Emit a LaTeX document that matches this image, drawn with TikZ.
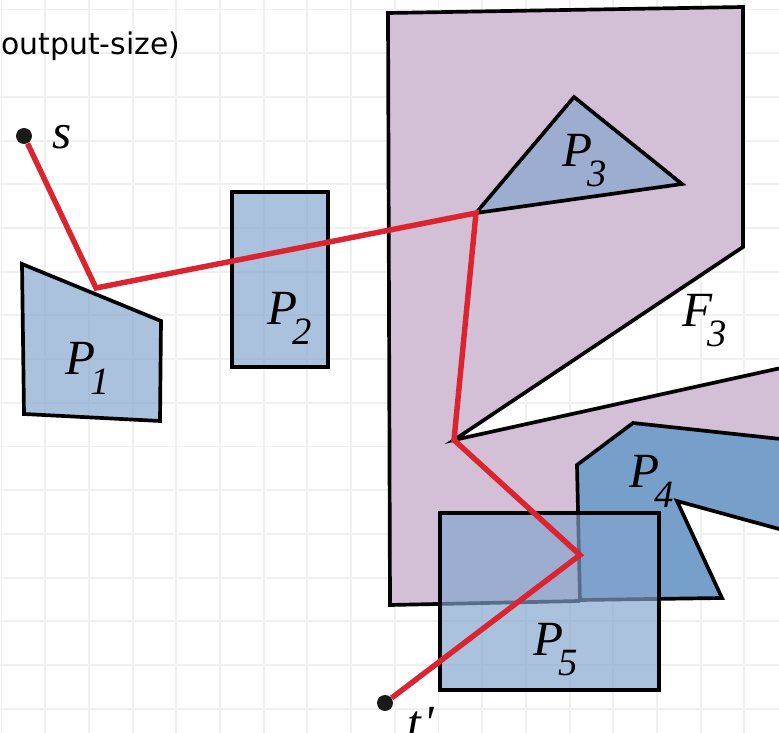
\documentclass[tikz,border=0pt]{standalone}
\usepackage{fontspec}
\setmainfont{Liberation Serif}
\newfontfamily\capsans{DejaVu Sans}
\usepackage{tikz}

\definecolor{gridgray}{RGB}{240,240,240}
\definecolor{obsblue}{RGB}{130,164,206}
\definecolor{deepblue}{RGB}{118,159,202}
\definecolor{facepink}{RGB}{211,192,214}
\definecolor{pathred}{RGB}{220,36,48}

% italic symbol with a low subscript
\newcommand{\symlab}[2]{{\fontsize{28}{28}\selectfont\itshape #1\kern-0.1em\raisebox{-0.4em}{\fontsize{22}{22}\selectfont #2}}}

\begin{document}
\begin{tikzpicture}[x=0.02cm,y=-0.02cm,
    obstacle/.style={draw=black,line width=2.1pt,fill=obsblue,fill opacity=0.67},
    lab/.style={anchor=base west,inner sep=0pt},
    endpt/.style={circle,fill=black!90,inner sep=0pt,minimum size=0.32cm}]
    \useasboundingbox (0,0) rectangle (779,733);
    \clip (0,0) rectangle (779,733);
    % grid
    \foreach \k in {0,...,17}
        \draw[gridgray,line width=1.1pt] ({1.5+43.7*\k},0) -- ({1.5+43.7*\k},733);
    \foreach \k in {0,...,16}
        \draw[gridgray,line width=1.1pt] (0,{9.5+43.7*\k}) -- (779,{9.5+43.7*\k});

    % free face F3
    \fill[facepink] (388,13) -- (743,7) -- (743,247) -- (454,440) -- (790,366)
        -- (790,440) -- (633,423) -- (577,465) -- (580,601) -- (390,605) -- cycle;
    \draw[line width=2.1pt] (790,366) -- (454,440) -- (743,247) -- (743,7)
        -- (388,13) -- (390,605) -- (580,601);

    % obstacles
    \draw[obstacle] (476,213) -- (574,97) -- (682,184) -- cycle;
    \draw[line width=2.1pt,fill=deepblue] (577,465) -- (633,423) -- (790,440) -- (790,532)
        -- (677,501) -- (722,598) -- (580,600) -- cycle;
    \draw[obstacle] (22,264) -- (161,321) -- (160,421) -- (24,414) -- cycle;
    \draw[obstacle] (232,192) rectangle (328,367);
    \draw[obstacle] (440,513) rectangle (659,690);

    % shortest path
    \node[endpt] (s) at (24,136) {};
    \node[endpt] (t) at (385,703) {};
    \coordinate (c1) at (96,288);
    \coordinate (c2) at (476,213);
    \coordinate (c3) at (454,440);
    \coordinate (c4) at (580,555);
    \draw[pathred,line width=3.1pt,line join=miter] (s) -- (c1) -- (c2) -- (c3) -- (c4) -- (t);

    % labels
    \node[lab] (ls) at (52,149) {\fontsize{28}{28}\selectfont\itshape s};
    \node[lab] (lt) at (407,740) {\fontsize{28}{28}\selectfont\itshape t\kern0.05em\textquotesingle};
    \node[lab] (lp1) at (65,375) {\symlab{P}{1}};
    \node[lab] (lp2) at (267,325) {\symlab{P}{2}};
    \node[lab] (lp3) at (562,167) {\symlab{P}{3}};
    \node[lab] (lp4) at (629,488) {\symlab{P}{4}};
    \node[lab] (lp5) at (533,656) {\symlab{P}{5}};
    \node[lab] (lf3) at (682,327) {\symlab{F}{3}};
    \node[lab] (cap) at (1,55) {\capsans\fontsize{17}{17}\selectfont output-size)};
\end{tikzpicture}
\end{document}
